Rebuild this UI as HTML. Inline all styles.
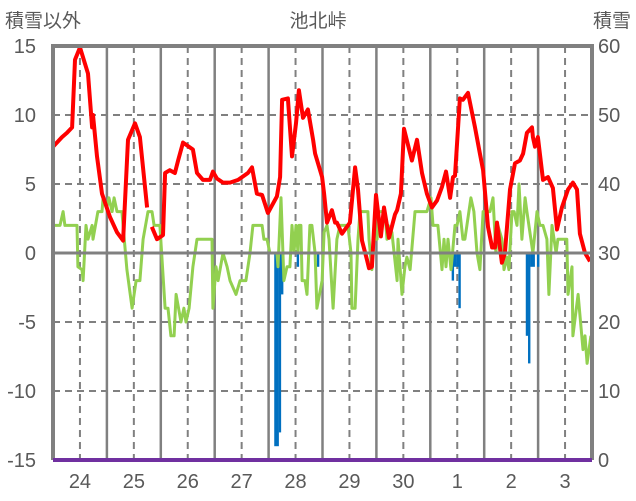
<!DOCTYPE html>
<html><head><meta charset="utf-8"><style>
html,body{margin:0;padding:0;background:#fff;}
svg{display:block;font-family:"Liberation Sans","Noto Sans CJK JP",sans-serif;}
</style></head><body>
<svg id="chart" width="636" height="501" viewBox="0 0 636 501">
<text x="5" y="27" font-size="19" fill="#595959">積雪以外</text>
<text x="318" y="27" font-size="19" fill="#595959" text-anchor="middle">池北峠</text>
<text x="631" y="27" font-size="19" fill="#595959" text-anchor="end">積雪</text>
<g id="grid"></g>
<g id="bars"></g>
<g id="lines"></g>
<g id="frame"></g>
<g id="labels"></g>
</svg>
<script>
const dayLabels=["24","25","26","27","28","29","30","1","2","3"];
const leftTicks=[15,10,5,0,-5,-10,-15];
const rightTicks=[60,50,40,30,20,10,0];
const redHours=[0,4,6.2,8.5,9.8,12,15.6,17.4,17.8,19.6,21.8,25.4,28.5,31.2,33.4,36.5,38.7,41.9,43,44,46.3,49,49.9,52,54.3,55.7,57.9,62.3,64.1,66.8,69.9,71.2,73,75.7,78.8,82.4,86.8,88.6,90.8,93.1,95.7,99.7,101.1,102,104.6,106.4,108.2,109.5,111.3,113.5,115.8,116.7,119.8,120.7,122,124.2,125.6,126.4,128.7,132.2,134.5,135.8,137.6,139.8,140.7,142,143.8,146,147.4,149.6,152.3,153.2,154.9,156.3,159.8,162.1,164.3,166.5,168.7,171,173.2,175,176.8,178.1,179,181.2,182.5,184.8,187.9,190.1,191.5,193.7,195.5,196.8,197.7,199,199.9,201.2,203.5,205.7,207.9,209.3,211,213.3,213.7,214.6,215.9,218.2,220.4,222.6,224.4,226.6,229.3,231.5,233.3,234.6,236.9,239.1];
const redValues=[7.7,8.4,8.7,9.1,14,14.9,13,9.1,10,7,4.3,2.6,1.5,0.9,8.2,9.4,8.4,3.3,null,1.9,1.0,1.3,5.8,6.0,5.8,6.7,8.0,7.5,5.8,5.3,5.3,5.9,5.4,5.1,5.1,5.3,5.8,6.2,4.3,4.2,2.9,4.1,5.5,11.1,11.2,7.0,9.4,11.8,9.8,10.4,8.2,7.2,5.5,4.3,2.2,3.1,2.2,2.2,1.4,2.2,6.2,4.6,0.9,-0.5,-1.1,-1.0,4.2,1.2,3.3,1.1,2.8,3.1,4.3,9.0,6.7,8.2,5.8,4.3,3.3,3.8,4.8,5.9,4.0,5.5,5.6,11.2,11.1,11.6,9.1,7.2,6.0,1.9,0.4,0.4,2.2,0.4,-0.7,0,4.6,6.5,6.7,7.2,8.7,9.1,8.4,7.7,8.4,5.3,5.5,4.7,1.7,3.3,4.6,5.1,4.6,1.4,0,-0.6,-0.4];
const greenHours=[0,3.1,4.5,5.3,10.7,11.1,12.9,13.4,14.7,15.6,17.4,17.8,20,21.8,22.3,24,24.9,26.3,27.2,28.5,30.7,32.9,35.2,37,38.7,40.1,42.3,44.1,45,47.6,49.9,51.2,52.5,53.9,54.8,57,58.3,59.2,60.6,62.3,64.1,70.8,71.2,72.6,73.5,75.7,77.5,78.8,81.5,83.3,85.9,87.7,89,93.1,93.9,95.3,96.6,99.7,100.2,101.5,102.8,104.2,105.5,106.4,107.3,108.2,109.1,109.5,110.4,110.9,112.2,113.1,114.4,115.3,116.7,117.5,119.8,120.7,122,122.9,124.7,126.4,127.8,131.3,132.7,133.1,134.5,135.8,136.7,140.2,140.7,142,142.9,144.3,145.1,147.8,148.7,149.2,150.9,153.2,153.6,155.4,156.7,157.6,159,161.2,166.5,168.3,169.2,171.4,173.2,174.1,175,175.9,177.2,179,179.9,181.2,182.5,183.4,186.1,187.4,188.8,190.1,191.5,194.6,195.9,197.2,198.1,199.9,200.8,202.1,203,204.4,205.3,206.6,207.5,208.8,210.2,211,213.7,215.5,216.8,218.2,219.9,220.8,222.2,224,224.8,228.8,229.3,231.1,231.5,233.8,236,236.9,237.8,239.5];
const greenValues=[2,2,3,2,2,-1,-1.2,-2,2,1,2,1,3,3,4,3.3,4,3,4,3,3,-1.2,-4,-2,-2,1,3,3,2,2,-4,-4,-6,-6,-3,-5,-4,-5,-4,-1,1,1,-4,-1,-2,0,-1,-2,-3,-2,-2,0,2,2,1,1,0,0,-1,4,-2,-1,-1,2,0,2,0,2,2,-2,-2,-3,2,2,0,-4,-2,1.5,2,1,-4,1,2,2,0,-4,-4,1,3,3,1,-1.2,1,1,3,3,1,2,1.5,-2,1,-3,-1,-0.3,-1.2,3,3,4,2,2,-1.2,1,-1,1,-1.2,2,2,3,1,1,4,3,0,-1.2,3,3,4,0,2,1,-1.2,-0.3,-1.2,3,3,2,5,1,4,3,0,3,2,2,1,-3,2,0,1,1,-3,-1,-6,-3,-7,-6,-8,-6];
const barHours=[99,100,101,102,109,118,178,179,180,181,211,212,213,214,216];
const barValues=[-14,-14,-13,-3,-1,-1,-2,-1,-1,-4,-6,-8,-1,-1,-1];
const snowHours=[0,240];
const snowValues=[0,0];

const X0=53,X1=592,YT=46,YB=460,NS="http://www.w3.org/2000/svg";
const xs=h=>X0+(X1-X0)*h/240;
const yl=v=>YB-(v+15)/30*(YB-YT);
const yr=v=>YB-v/60*(YB-YT);
function mk(tag,attrs,parent){const e=document.createElementNS(NS,tag);for(const k in attrs)e.setAttribute(k,attrs[k]);parent.appendChild(e);return e;}
const grid=document.getElementById('grid');
[10,5,-5,-10].forEach(v=>{
 const l=mk('line',{x1:X0,x2:X1,y1:yl(v),y2:yl(v),stroke:'#808080','stroke-width':2,'stroke-dasharray':'7,5'},grid);
 
 
});
for(let d=0;d<10;d++){
 if(d>0){const l=mk('line',{x1:xs(d*24),x2:xs(d*24),y1:YT,y2:YB,stroke:'#808080','stroke-width':2.5},grid);
 
 }
 const m=mk('line',{x1:xs(d*24+12),x2:xs(d*24+12),y1:YT,y2:YB,stroke:'#808080','stroke-width':2,'stroke-dasharray':'7,5'},grid);
 
 
}
const bars=document.getElementById('bars');
barHours.forEach((h,i)=>{
 const y0=yl(0),y1=yl(barValues[i]);
 const r=mk('rect',{x:xs(h)-1.1,y:Math.min(y0,y1),width:2.4,height:Math.abs(y1-y0),fill:'#0070c0'},bars);
 
 
});
function path(hours,vals,yf){let d='',pen=false;hours.forEach((h,i)=>{const v=vals[i];if(v===null){pen=false;return;}d+=(pen?'L':'M')+xs(h).toFixed(1)+','+yf(v).toFixed(1);pen=true;});return d;}
const lines=document.getElementById('lines');
const g=mk('path',{d:path(greenHours,greenValues,yl),fill:'none',stroke:'#92d050','stroke-width':3,'stroke-linejoin':'round'},lines);


const r=mk('path',{d:path(redHours,redValues,yl),fill:'none',stroke:'#ff0000','stroke-width':4,'stroke-linejoin':'round'},lines);


const frame=document.getElementById('frame');
const z=mk('line',{x1:X0,x2:X1,y1:yl(0),y2:yl(0),stroke:'#808080','stroke-width':3},frame);


const b=mk('path',{d:`M${X0},${YB}L${X0},${YT}L${X1},${YT}L${X1},${YB}`,fill:'none',stroke:'#808080','stroke-width':4},frame);


const s=mk('path',{d:path(snowHours,snowValues,yr),fill:'none',stroke:'#7030a0','stroke-width':4},frame);


const labels=document.getElementById('labels');
leftTicks.forEach(v=>{const t=mk('text',{x:36,y:yl(v)+7,'font-size':20,fill:'#595959','text-anchor':'end'},labels);t.textContent=v;
 
 });
rightTicks.forEach(v=>{const t=mk('text',{x:598,y:yr(v)+7,'font-size':20,fill:'#595959'},labels);t.textContent=v;
 
 });
dayLabels.forEach((d,i)=>{const t=mk('text',{x:xs(i*24+12),y:488,'font-size':20,fill:'#595959','text-anchor':'middle'},labels);t.textContent=d;
 
 });
</script>
</body></html>
